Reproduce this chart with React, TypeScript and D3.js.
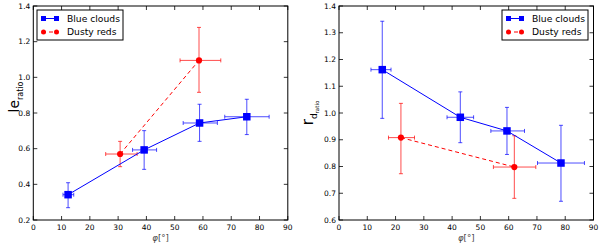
import React from "react";
import * as d3 from "d3";

const xTicks = [0, 10, 20, 30, 40, 50, 60, 70, 80, 90];
const leftYTicks = [0.2, 0.4, 0.6, 0.8, 1.0, 1.2, 1.4];
const rightYTicks = [0.6, 0.7, 0.8, 0.9, 1.0, 1.1, 1.2, 1.3, 1.4];

// Left panel: le_ratio
const leBlueX = [12.3, 39.2, 58.8, 75.5];
const leBlueXLo = [10.5, 35.1, 53.0, 67.7];
const leBlueXHi = [14.3, 43.6, 65.1, 83.4];
const leBlueY = [0.342, 0.593, 0.744, 0.779];
const leBlueYLo = [0.269, 0.484, 0.641, 0.679];
const leBlueYHi = [0.409, 0.701, 0.849, 0.877];

const leRedX = [30.7, 58.6];
const leRedXLo = [25.6, 51.9];
const leRedXHi = [36.7, 66.3];
const leRedY = [0.57, 1.095];
const leRedYLo = [0.499, 0.916];
const leRedYHi = [0.641, 1.28];

// Right panel: r_d ratio
const rdBlueX = [15.3, 42.9, 59.4, 78.5];
const rdBlueXLo = [11.3, 38.2, 53.7, 70.2];
const rdBlueXHi = [18.4, 47.6, 65.6, 86.8];
const rdBlueY = [1.162, 0.984, 0.933, 0.813];
const rdBlueYLo = [0.98, 0.889, 0.845, 0.67];
const rdBlueYHi = [1.343, 1.079, 1.021, 0.954];

const rdRedX = [21.9, 62.0];
const rdRedXLo = [17.5, 54.6];
const rdRedXHi = [26.7, 69.6];
const rdRedY = [0.908, 0.798];
const rdRedYLo = [0.773, 0.681];
const rdRedYHi = [1.036, 0.915];

const seriesNames = ["Blue clouds", "Dusty reds"];

const BLUE = "#0000ff";
const RED = "#ff0000";
const FONT = "DejaVu Sans, sans-serif";

type Series = {
  x: number[]; xLo: number[]; xHi: number[];
  y: number[]; yLo: number[]; yHi: number[];
};

function ErrSeries({ s, xs, ys, color, marker, dashed }: {
  s: Series; xs: d3.ScaleLinear<number, number>; ys: d3.ScaleLinear<number, number>;
  color: string; marker: "square" | "circle"; dashed: boolean;
}) {
  const line = d3.line<number>().x((_, i) => xs(s.x[i])).y((_, i) => ys(s.y[i]));
  const cap = 2;
  return (
    <g>
      {s.x.map((xv, i) => (
        <g key={"e" + i} stroke={color} strokeOpacity={0.7} strokeWidth={1}>
          <line x1={xs(s.xLo[i])} x2={xs(s.xHi[i])} y1={ys(s.y[i])} y2={ys(s.y[i])} />
          <line x1={xs(s.xLo[i])} x2={xs(s.xLo[i])} y1={ys(s.y[i]) - cap} y2={ys(s.y[i]) + cap} />
          <line x1={xs(s.xHi[i])} x2={xs(s.xHi[i])} y1={ys(s.y[i]) - cap} y2={ys(s.y[i]) + cap} />
          <line x1={xs(xv)} x2={xs(xv)} y1={ys(s.yLo[i])} y2={ys(s.yHi[i])} />
          <line x1={xs(xv) - cap} x2={xs(xv) + cap} y1={ys(s.yLo[i])} y2={ys(s.yLo[i])} />
          <line x1={xs(xv) - cap} x2={xs(xv) + cap} y1={ys(s.yHi[i])} y2={ys(s.yHi[i])} />
        </g>
      ))}
      <path d={line(s.x) || ""} fill="none" stroke={color} strokeWidth={1}
        strokeDasharray={dashed ? "4,3" : undefined} />
      {s.x.map((xv, i) =>
        marker === "square" ? (
          <rect key={"m" + i} x={xs(xv) - 3.75} y={ys(s.y[i]) - 3.75} width={7.5} height={7.5} fill={color} />
        ) : (
          <circle key={"m" + i} cx={xs(xv)} cy={ys(s.y[i])} r={3.1} fill={color} />
        )
      )}
    </g>
  );
}

function Legend({ x, y }: { x: number; y: number }) {
  return (
    <g transform={`translate(${x},${y})`}>
      <rect x={0} y={0} width={86} height={30} fill="white" stroke="black" strokeWidth={1} />
      {seriesNames.map((name, i) => {
        const cy = 8.5 + i * 13.5;
        const color = i === 0 ? BLUE : RED;
        return (
          <g key={name}>
            <line x1={5} x2={21} y1={cy} y2={cy} stroke={color} strokeWidth={1}
              strokeDasharray={i === 1 ? "4,3" : undefined} />
            {i === 0 ? (
              <>
                <rect x={4} y={cy - 2.5} width={5} height={5} fill={color} />
                <rect x={17} y={cy - 2.5} width={5} height={5} fill={color} />
              </>
            ) : (
              <>
                <circle cx={6.5} cy={cy} r={2.5} fill={color} />
                <circle cx={19.5} cy={cy} r={2.5} fill={color} />
              </>
            )}
            <text x={30} y={cy + 3.3} fontSize={9.2} fontFamily={FONT}>{name}</text>
          </g>
        );
      })}
    </g>
  );
}

function Panel({ left, yTicks, yDomain, blue, red, legendX, yLabel, yTickFmt }: {
  left: number; yTicks: number[]; yDomain: [number, number]; blue: Series; red: Series;
  legendX: number; yLabel: React.ReactNode; yTickFmt: (v: number) => string;
}) {
  const top = 6, bottom = 220, width = 254.5;
  const xs = d3.scaleLinear().domain([0, 90]).range([left, left + width]);
  const ys = d3.scaleLinear().domain(yDomain).range([bottom, top]);
  const tl = 4;
  return (
    <g>
      <rect x={left} y={top} width={width} height={bottom - top} fill="white" />
      <ErrSeries s={red} xs={xs} ys={ys} color={RED} marker="circle" dashed />
      <ErrSeries s={blue} xs={xs} ys={ys} color={BLUE} marker="square" dashed={false} />
      <rect x={left} y={top} width={width} height={bottom - top} fill="none" stroke="black" strokeWidth={1} />
      {xTicks.map((t) => (
        <g key={"x" + t}>
          <line x1={xs(t)} x2={xs(t)} y1={bottom} y2={bottom - tl} stroke="black" strokeWidth={0.8} />
          <line x1={xs(t)} x2={xs(t)} y1={top} y2={top + tl} stroke="black" strokeWidth={0.8} />
          <text x={xs(t)} y={bottom + 10} fontSize={7.5} fontFamily={FONT} textAnchor="middle">{t}</text>
        </g>
      ))}
      {yTicks.map((t) => (
        <g key={"y" + t}>
          <line x1={left} x2={left + tl} y1={ys(t)} y2={ys(t)} stroke="black" strokeWidth={0.8} />
          <line x1={left + width} x2={left + width - tl} y1={ys(t)} y2={ys(t)} stroke="black" strokeWidth={0.8} />
          <text x={left - 3} y={ys(t) + 2.7} fontSize={7.5} fontFamily={FONT} textAnchor="end">{yTickFmt(t)}</text>
        </g>
      ))}
      <text x={xs(45)} y={241} fontSize={8.5} fontFamily={FONT} textAnchor="middle" fill="#444">
        <tspan fontStyle="italic">φ</tspan>[°]
      </text>
      {yLabel}
      <Legend x={legendX} y={10} />
    </g>
  );
}

export default function App() {
  const leBlue = { x: leBlueX, xLo: leBlueXLo, xHi: leBlueXHi, y: leBlueY, yLo: leBlueYLo, yHi: leBlueYHi };
  const leRed = { x: leRedX, xLo: leRedXLo, xHi: leRedXHi, y: leRedY, yLo: leRedYLo, yHi: leRedYHi };
  const rdBlue = { x: rdBlueX, xLo: rdBlueXLo, xHi: rdBlueXHi, y: rdBlueY, yLo: rdBlueYLo, yHi: rdBlueYHi };
  const rdRed = { x: rdRedX, xLo: rdRedXLo, xHi: rdRedXHi, y: rdRedY, yLo: rdRedYLo, yHi: rdRedYHi };
  return (
    <svg width={600} height={245} style={{ position: "absolute", left: 0, top: 0, background: "white" }}>
      <Panel left={33.3} yTicks={leftYTicks} yDomain={[0.2, 1.4]} blue={leBlue} red={leRed}
        legendX={37} yTickFmt={(v) => v.toFixed(1)}
        yLabel={
          <text transform="translate(19,97) rotate(-90)" fontFamily={FONT} textAnchor="middle">
            <tspan fontSize={14}>le</tspan>
            <tspan fontSize={8} dy={4}>ratio</tspan>
          </text>
        } />
      <Panel left={339} yTicks={rightYTicks} yDomain={[0.6, 1.4]} blue={rdBlue} red={rdRed}
        legendX={502} yTickFmt={(v) => v.toFixed(1)}
        yLabel={
          <text transform="translate(313,113) rotate(-90)" fontFamily={FONT} textAnchor="middle">
            <tspan fontSize={15}>r</tspan>
            <tspan fontSize={9} dy={4}>d</tspan>
            <tspan fontSize={5.5} dy={2}>ratio</tspan>
          </text>
        } />
    </svg>
  );
}
